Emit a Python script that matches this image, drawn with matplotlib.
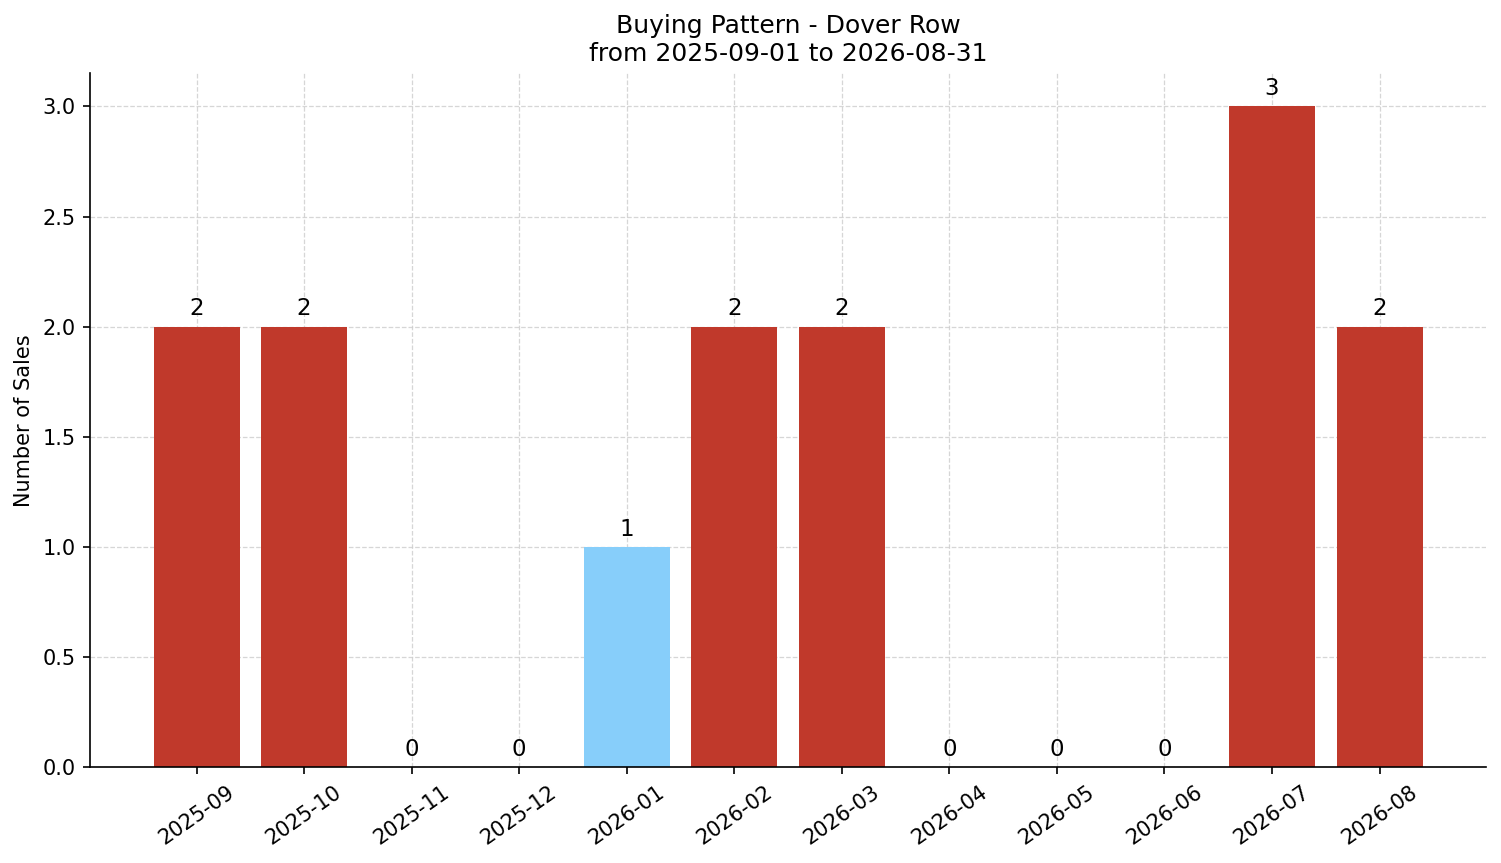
import matplotlib
matplotlib.use("Agg")
import matplotlib.pyplot as plt

# data
months = ["2025-09", "2025-10", "2025-11", "2025-12", "2026-01", "2026-02",
          "2026-03", "2026-04", "2026-05", "2026-06", "2026-07", "2026-08"]
sales = [2, 2, 0, 0, 1, 2, 2, 0, 0, 0, 3, 2]
highlight = "2026-01"

colors = ["#87cefa" if m == highlight else "#c0392b" for m in months]

fig, ax = plt.subplots(figsize=(1501 / 150, 863 / 150), dpi=150)
fig.subplots_adjust(left=0.06, right=0.99, top=0.915, bottom=0.111)

x = range(len(months))
bars = ax.bar(x, sales, color=colors, width=0.8, zorder=2)

for b, v in zip(bars, sales):
    ax.annotate(str(v), (b.get_x() + b.get_width() / 2, v),
                xytext=(0, 3), textcoords="offset points",
                ha="center", va="bottom", fontsize=11)

ax.set_xticks(list(x))
ax.set_xticklabels(months, rotation=35, ha="center")
ax.set_ylabel("Number of Sales")
ax.set_title("Buying Pattern - Dover Row\nfrom 2025-09-01 to 2026-08-31", fontsize=12)

ax.grid(True, linestyle="--", color="#cccccc", linewidth=0.6, alpha=0.8, zorder=0)
ax.set_axisbelow(True)
ax.spines["top"].set_visible(False)
ax.spines["right"].set_visible(False)

plt.savefig("out.png", dpi=150)
